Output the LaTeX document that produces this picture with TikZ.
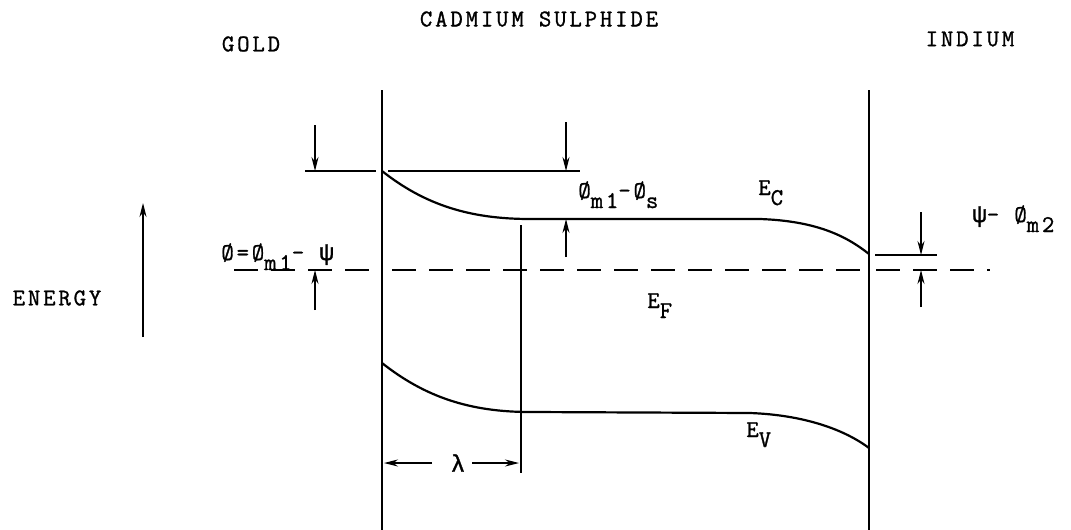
\documentclass[tikz,border=0pt]{standalone}
\usepackage{fontspec}
\setmainfont{Latin Modern Mono}[LetterSpace=12,FakeBold=1.2]
\newfontfamily\grk{Liberation Mono}[FakeBold=1.2]
\usetikzlibrary{arrows.meta}
\newcommand{\lowr}[1]{\raisebox{-5pt}{#1}}

\begin{document}
\begin{tikzpicture}[x=0.5pt,y=-0.5pt,
      font=\fontsize{12}{14}\selectfont,
      wall/.style={line width=0.7pt},
      band/.style={line width=1.1pt},
      fermi/.style={line width=0.9pt,dash pattern=on 12pt off 6.5pt},
      arr/.style={-{Stealth[length=7pt,width=3.5pt]},line width=0.6pt}]
    \useasboundingbox (0,0) rectangle (1071,530);
    \node (gold) at (251,44) {GOLD};
    \node (cds) at (539,19) {CADMIUM SULPHIDE};
    \node (indium) at (970,39) {INDIUM};
    \node (energy) at (57,298) {ENERGY};
    \coordinate (enlo) at (143,337); \coordinate (enhi) at (143,203);
    \draw[arr] (enlo)--(enhi);
    % interfaces and depletion edge
    \coordinate (ltop) at (382,90); \coordinate (lbot) at (382,530);
    \coordinate (rtop) at (869,90); \coordinate (rbot) at (869,530);
    \coordinate (lamtop) at (521,225); \coordinate (lambot) at (521,473);
    \draw[wall] (ltop)--(lbot); \draw[wall] (rtop)--(rbot);
    \draw[wall] (lamtop)--(lambot);
    % bands
    \coordinate (ecl) at (382,171); \coordinate (ecm) at (530,219);
    \coordinate (ecn) at (760,219); \coordinate (ecr) at (869,254);
    \draw[band] (ecl) .. controls (425,205) and (470,219) .. (ecm)--(ecn)
      .. controls (815,221) and (845,235) .. (ecr);
    \coordinate (evl) at (382,363); \coordinate (evm) at (530,412);
    \coordinate (evn) at (750,413); \coordinate (evr) at (869,448);
    \draw[band] (evl) .. controls (425,397) and (470,412) .. (evm)--(evn)
      .. controls (805,415) and (845,430) .. (evr);
    % metal levels
    \coordinate (m1a) at (305,171); \coordinate (m1b) at (376,171);
    \coordinate (m1c) at (388,171); \coordinate (m1d) at (580,171);
    \draw[band] (m1a)--(m1b); \draw[band] (m1c)--(m1d);
    \coordinate (m2a) at (875,255); \coordinate (m2b) at (937,255);
    \draw[band] (m2a)--(m2b);
    \coordinate (efa) at (234,270); \coordinate (efb) at (374,270);
    \coordinate (efc) at (392,270); \coordinate (efd) at (862,270);
    \coordinate (efe) at (876,270); \coordinate (eff) at (990,270);
    \draw[fermi] (efa)--(efb); \draw[fermi] (efc)--(efd); \draw[fermi] (efe)--(eff);
    % barrier arrows
    \coordinate (pa1) at (315,125); \coordinate (pa2) at (315,171);
    \coordinate (pa3) at (315,310); \coordinate (pa4) at (315,270);
    \draw[arr] (pa1)--(pa2); \draw[arr] (pa3)--(pa4);
    \coordinate (sa1) at (566,122); \coordinate (sa2) at (566,171);
    \coordinate (sa3) at (566,257); \coordinate (sa4) at (566,219);
    \draw[arr] (sa1)--(sa2); \draw[arr] (sa3)--(sa4);
    \coordinate (ra1) at (921,212); \coordinate (ra2) at (921,255);
    \coordinate (ra3) at (921,307); \coordinate (ra4) at (921,270);
    \draw[arr] (ra1)--(ra2); \draw[arr] (ra3)--(ra4);
    % labels
    \node[anchor=base west,inner sep=0pt] (phiLabel) at (221,260) {Ø=Ø\lowr{m1}- {\grk ψ}};
    \node[anchor=base west,inner sep=0pt] (barLabel) at (578,198) {Ø\lowr{m1}-Ø\lowr{s}};
    \node[anchor=base west,inner sep=0pt] (ecLabel) at (758,195) {E\lowr{C}};
    \node[anchor=base west,inner sep=0pt] (efLabel) at (647,308) {E\lowr{F}};
    \node[anchor=base west,inner sep=0pt] (evLabel) at (746,437) {E\lowr{V}};
    \node[anchor=base west,inner sep=0pt] (psiLabel) at (972,222) {{\grk ψ}- Ø\lowr{m2}};
    \node (lamLabel) at (458,463) {\grk λ};
    \coordinate (lamA) at (432,463); \coordinate (lamL) at (384,463);
    \coordinate (lamB) at (472,463); \coordinate (lamR) at (519,463);
    \draw[arr] (lamA)--(lamL); \draw[arr] (lamB)--(lamR);
\end{tikzpicture}
\end{document}
